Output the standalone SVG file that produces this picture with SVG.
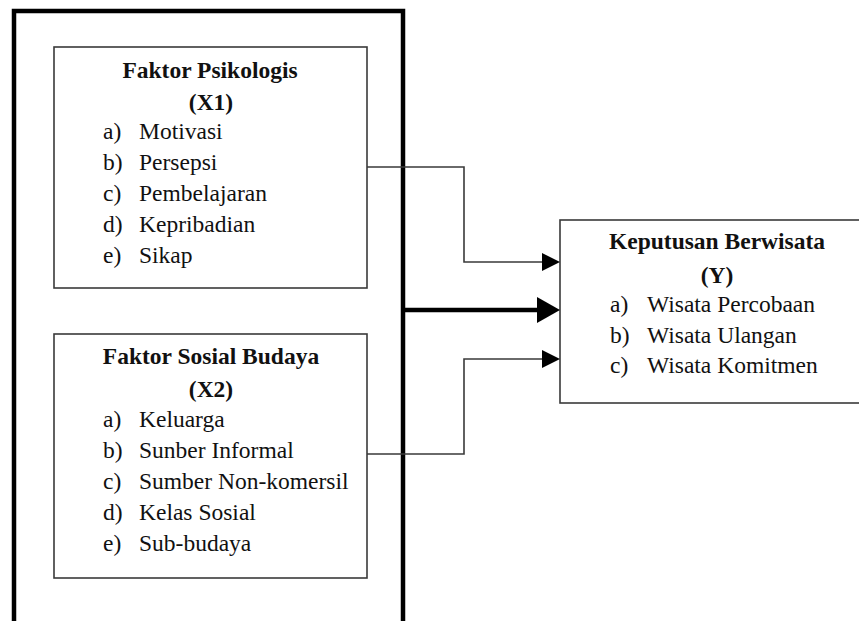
<svg xmlns="http://www.w3.org/2000/svg" width="859" height="621" viewBox="0 0 859 621">
<style>
.box{fill:#fff;stroke:#3a3a3a;stroke-width:1.6}
.outer{fill:none;stroke:#000;stroke-width:4.5}
.t{font-family:'Liberation Serif','Times New Roman',serif;font-size:23.5px;fill:#111}
.b{font-weight:bold;text-anchor:middle}
.thin{fill:none;stroke:#3a3a3a;stroke-width:1.6}
.thick{fill:none;stroke:#000;stroke-width:4.5}
</style>
<rect width="859" height="621" fill="#fff"/>
<g id="outer"><rect class="outer" x="14" y="11" width="389" height="640"/></g>
<g id="x1">
<rect class="box" x="54" y="47" width="313" height="241"/>
<text class="t b" x="210" y="78">Faktor Psikologis</text>
<text class="t b" x="211" y="110">(X1)</text>
<text class="t" x="103" y="139">a)</text><text class="t" x="139" y="139">Motivasi</text>
<text class="t" x="103" y="170">b)</text><text class="t" x="139" y="170">Persepsi</text>
<text class="t" x="103" y="201">c)</text><text class="t" x="139" y="201">Pembelajaran</text>
<text class="t" x="103" y="232">d)</text><text class="t" x="139" y="232">Kepribadian</text>
<text class="t" x="103" y="263">e)</text><text class="t" x="139" y="263">Sikap</text>
</g>
<g id="x2">
<rect class="box" x="54" y="334" width="313" height="244"/>
<text class="t b" x="211" y="364">Faktor Sosial Budaya</text>
<text class="t b" x="211" y="397">(X2)</text>
<text class="t" x="103" y="427">a)</text><text class="t" x="139" y="427">Keluarga</text>
<text class="t" x="103" y="458">b)</text><text class="t" x="139" y="458">Sunber Informal</text>
<text class="t" x="103" y="489">c)</text><text class="t" x="139" y="489">Sumber Non-komersil</text>
<text class="t" x="103" y="520">d)</text><text class="t" x="139" y="520">Kelas Sosial</text>
<text class="t" x="103" y="551">e)</text><text class="t" x="139" y="551">Sub-budaya</text>
</g>
<g id="y">
<rect class="box" x="560" y="220" width="310" height="183"/>
<text class="t b" x="717" y="249">Keputusan Berwisata</text>
<text class="t b" x="717" y="283">(Y)</text>
<text class="t" x="610" y="312">a)</text><text class="t" x="647" y="312">Wisata Percobaan</text>
<text class="t" x="610" y="343">b)</text><text class="t" x="647" y="343">Wisata Ulangan</text>
<text class="t" x="610" y="373">c)</text><text class="t" x="647" y="373">Wisata Komitmen</text>
</g>
<g id="connectors">
<polyline class="thin" points="367,167 464,167 464,262 543,262"/>
<polygon points="542,253 560,262 542,271" fill="#000"/>
<line class="thick" x1="403" y1="310" x2="538" y2="310"/>
<polygon points="537,297 560,310 537,323" fill="#000"/>
<polyline class="thin" points="367,454 464,454 464,359 543,359"/>
<polygon points="542,350 560,359 542,368" fill="#000"/>
</g>
</svg>
